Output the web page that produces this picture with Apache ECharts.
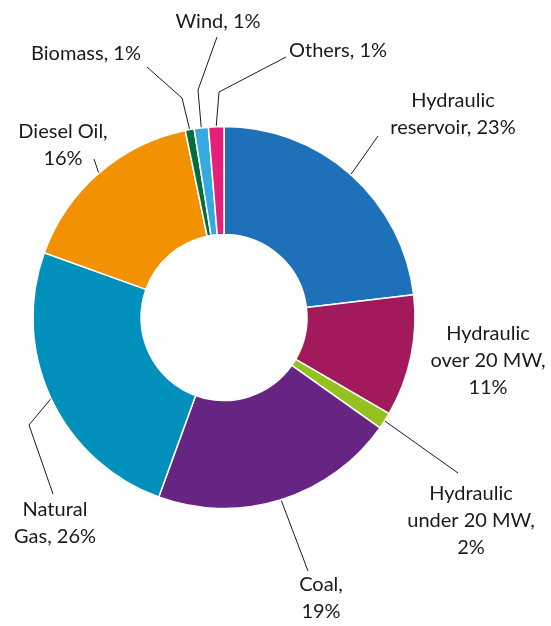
<!DOCTYPE html>
<html>
<head>
<meta charset="utf-8">
<script src="https://cdn.jsdelivr.net/npm/echarts@6/dist/echarts.min.js"></script>
<style>
html,body{margin:0;padding:0;background:#fff;}
#chart{width:551px;height:626px;}
</style>
</head>
<body>
<div id="chart"></div>
<script>
// ---- data ----
const categories = ['Hydraulic reservoir', 'Hydraulic over 20 MW', 'Hydraulic under 20 MW', 'Coal', 'Natural Gas', 'Diesel Oil', 'Biomass', 'Wind', 'Others'];
const values = [23.1, 10.3, 1.4, 20.75, 24.95, 16.25, 0.75, 1.2, 1.3];
const labelPct = [23, 11, 2, 19, 26, 16, 1, 1, 1];
const labelTexts = [
  'Hydraulic\nreservoir, 23%',
  'Hydraulic\nover 20 MW,\n11%',
  'Hydraulic\nunder 20 MW,\n2%',
  'Coal,\n19%',
  'Natural\nGas, 26%',
  'Diesel Oil,\n16%',
  'Biomass, 1%',
  'Wind, 1%',
  'Others, 1%'
];

// ---- styling / layout ----
const colors = ['#1e71b8', '#a21a5b', '#95c11f', '#662483', '#0090bb', '#f39200', '#006f3c', '#36a9e1', '#e5207a'];
const labelPos = [[453,114],[488,361],[471,521],[321,598],[55,523],[63,145],[86,54],[218,22],[338,51]];
const linePts = [
  [[378,136]],
  null,
  [[458,473]],
  [[308,571]],
  [[29,425],[53,494]],
  [[94,159]],
  [[182,98],[147,67]],
  [[198,90],[217,37]],
  [[219,92],[286,57]]
];

const chart = echarts.init(document.getElementById('chart'), null, {renderer: 'canvas'});
const data = categories.map((c, i) => ({
  name: c,
  value: values[i],
  itemStyle: {color: colors[i]},
  label: {formatter: labelTexts[i]},
  labelLine: {show: linePts[i] !== null}
}));

chart.setOption({
  animation: false,
  series: [{
    type: 'pie',
    center: [224, 317.5],
    radius: [83, 191],
    startAngle: 90,
    clockwise: true,
    avoidLabelOverlap: false,
    itemStyle: {borderColor: '#ffffff', borderWidth: 1.5},
    label: {
      show: true,
      position: 'outside',
      fontFamily: 'Lato',
      fontSize: 20,
      lineHeight: 27,
      color: '#1a1a1a',
      align: 'center'
    },
    labelLine: {
      show: true,
      lineStyle: {color: '#1a1a1a', width: 1}
    },
    labelLayout: function (params) {
      const i = params.dataIndex;
      const out = {x: labelPos[i][0], y: labelPos[i][1], align: 'center', verticalAlign: 'middle'};
      if (linePts[i] && params.labelLinePoints) {
        out.labelLinePoints = [params.labelLinePoints[0]].concat(linePts[i]);
      }
      return out;
    },
    data: data
  }]
});
</script>
</body>
</html>
